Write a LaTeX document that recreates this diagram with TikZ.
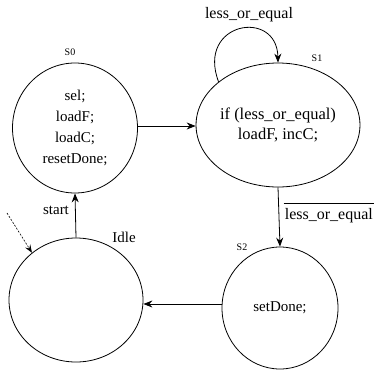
\documentclass[tikz,border=0pt]{standalone}
\usepackage{fontspec}
\setmainfont{Liberation Serif}
\usetikzlibrary{shapes.geometric,arrows.meta}
\begin{document}
\begin{tikzpicture}[x=1pt,y=-1pt,
  state/.style={draw,ellipse,inner sep=0pt,line width=0.8pt,align=center,
    font=\fontsize{15}{21}\selectfont},
  lab/.style={font=\fontsize{15}{18}\selectfont,inner sep=1pt},
  slab/.style={font=\fontsize{10}{12}\selectfont,inner sep=0pt},
  arr/.style={line width=0.8pt,-{Stealth[length=9pt,width=7pt,inset=3pt]}}]
\useasboundingbox (0,0) rectangle (377,370);
\node[state,minimum width=125pt,minimum height=130pt] (s0) at (75,128)
  {sel;\\loadF;\\loadC;\\resetDone;};
\node[state,minimum width=160pt,minimum height=124pt,
  font=\fontsize{16.5}{20}\selectfont] (s1) at (278,125)
  {if (less\_or\_equal)\\loadF, incC;};
\node[state,minimum width=116pt,minimum height=122pt] (s2) at (280,308)
  {setDone;};
\node[state,minimum width=134pt,minimum height=124pt] (idle) at (76,300) {};
\node[slab] (l0) at (70,52) {S0};
\node[slab] (l1) at (317,58) {S1};
\node[slab] (l2) at (242,247) {S2};
\node[lab] (li) at (124,237) {Idle};
\draw[arr] (s0.east |- 0,126) -- (s1.west |- 0,126);
\draw[arr] (s1.144) .. controls (196,22) and (277,8) .. (s1.north);
\node[lab,font=\fontsize{16}{18}\selectfont] (loop) at (249,15) {less\_or\_equal};
\draw[arr] (s1.south) -- (s2.north);
\node[lab,anchor=east,font=\fontsize{16}{18}\selectfont] (nl) at (374,216) {less\_or\_equal};
\draw[line width=0.7pt] ([yshift=4pt]nl.north west) -- ([yshift=4pt]nl.north east);
\draw[arr] (s2.west |- 0,304) -- (idle.east |- 0,304);
\draw[arr] (idle.north) -- (s0.south);
\node[lab] (st) at (56,210) {start};
\coordinate (d0) at (7,213);
\draw[dash pattern=on 2pt off 1.5pt,line width=0.6pt,-{Stealth[length=8pt,width=6pt,inset=3pt]}] (d0) -- (idle.133);
\end{tikzpicture}
\end{document}
